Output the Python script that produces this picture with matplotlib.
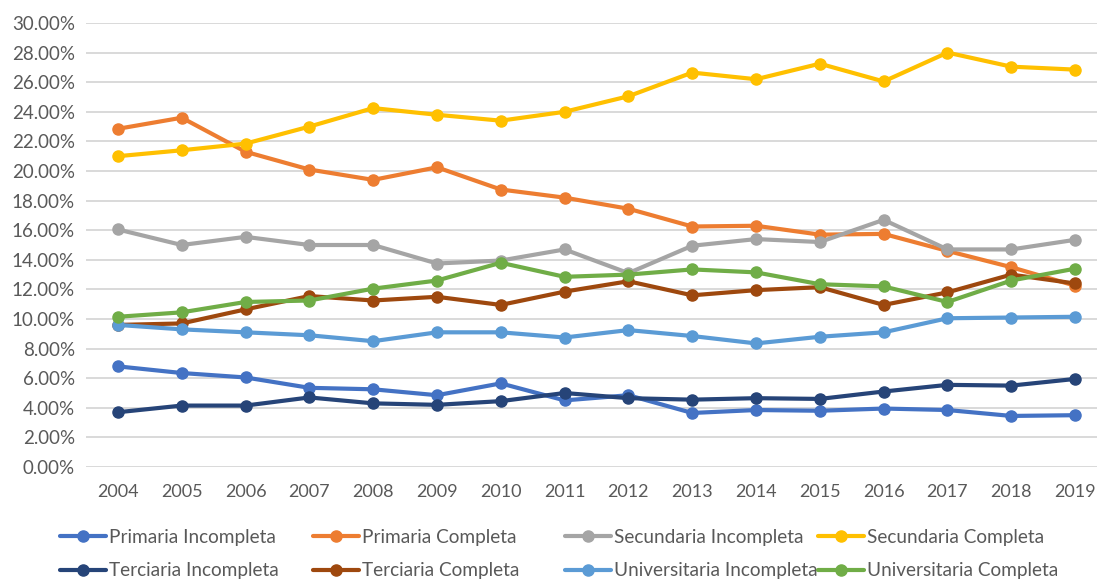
import matplotlib.pyplot as plt
from matplotlib.ticker import PercentFormatter

plt.rcParams['font.family'] = ['Lato', 'DejaVu Sans']

years = [str(y) for y in range(2004, 2020)]

primaria_incompleta = [6.8, 6.35, 6.05, 5.35, 5.25, 4.85, 5.65, 4.5, 4.85, 3.65, 3.85, 3.8, 3.95, 3.85, 3.45, 3.5]
primaria_completa = [22.85, 23.6, 21.3, 20.1, 19.4, 20.25, 18.75, 18.2, 17.45, 16.25, 16.3, 15.7, 15.75, 14.6, 13.5, 12.25]
secundaria_incompleta = [16.05, 15.0, 15.55, 15.0, 15.0, 13.75, 13.95, 14.7, 13.1, 14.95, 15.4, 15.2, 16.7, 14.7, 14.7, 15.35]
secundaria_completa = [21.0, 21.4, 21.85, 23.0, 24.25, 23.8, 23.4, 24.0, 25.05, 26.65, 26.2, 27.25, 26.05, 28.0, 27.05, 26.85]
terciaria_incompleta = [3.7, 4.15, 4.15, 4.7, 4.3, 4.2, 4.45, 5.0, 4.65, 4.55, 4.65, 4.6, 5.1, 5.55, 5.5, 5.95]
terciaria_completa = [9.6, 9.7, 10.65, 11.55, 11.25, 11.5, 10.95, 11.85, 12.55, 11.6, 11.95, 12.15, 10.95, 11.8, 13.0, 12.4]
universitaria_incompleta = [9.6, 9.3, 9.1, 8.9, 8.5, 9.1, 9.1, 8.75, 9.25, 8.85, 8.35, 8.8, 9.1, 10.05, 10.1, 10.15]
universitaria_completa = [10.15, 10.45, 11.15, 11.25, 12.05, 12.6, 13.8, 12.85, 13.0, 13.35, 13.15, 12.35, 12.2, 11.15, 12.6, 13.4]

series = [
    ('Primaria Incompleta', primaria_incompleta, '#4472C4'),
    ('Primaria Completa', primaria_completa, '#ED7D31'),
    ('Secundaria Incompleta', secundaria_incompleta, '#A5A5A5'),
    ('Secundaria Completa', secundaria_completa, '#FFC000'),
    ('Terciaria Incompleta', terciaria_incompleta, '#264478'),
    ('Terciaria Completa', terciaria_completa, '#9E480E'),
    ('Universitaria Incompleta', universitaria_incompleta, '#5B9BD5'),
    ('Universitaria Completa', universitaria_completa, '#70AD47'),
]

fig = plt.figure(figsize=(10.97, 5.85), dpi=100)
ax = fig.add_axes([86 / 1097, 1 - 467 / 585, 1021 / 1097, 444 / 585])

x = range(len(years))
lines = []
for name, vals, color in series:
    ln, = ax.plot(x, [v / 100 for v in vals], color=color, linewidth=3, marker='o',
                  markersize=8, label=name, solid_capstyle='round')
    lines.append(ln)

ax.set_xlim(-0.5, len(years) - 0.5)
ax.set_ylim(0, 0.30)
ax.set_yticks([i / 100 for i in range(0, 31, 2)])
ax.yaxis.set_major_formatter(PercentFormatter(1.0, decimals=2))
ax.set_xticks(list(x))
ax.set_xticklabels(years)
ax.grid(axis='y', color='#D9D9D9', linewidth=1.4)
ax.set_axisbelow(True)
for s in ax.spines.values():
    s.set_visible(False)
ax.tick_params(axis='both', length=0, labelsize=13, colors='#595959')
ax.tick_params(axis='y', labelsize=13.5, pad=8)
ax.tick_params(axis='x', pad=12)

# legend: 4 equal-width columns, two rows (Excel style)
col_x = [60, 313, 565, 818]
for i, cx in enumerate(col_x):
    leg = fig.legend(handles=[lines[i], lines[i + 4]], loc='upper left',
                     bbox_to_anchor=(cx / 1097, 1 - 529 / 585), frameon=False,
                     fontsize=13.7, handlelength=2.4, handletextpad=0.15,
                     labelspacing=0.85, borderaxespad=0, borderpad=0)
    for t in leg.get_texts():
        t.set_color('#595959')

fig.savefig('out.png', dpi=100)
